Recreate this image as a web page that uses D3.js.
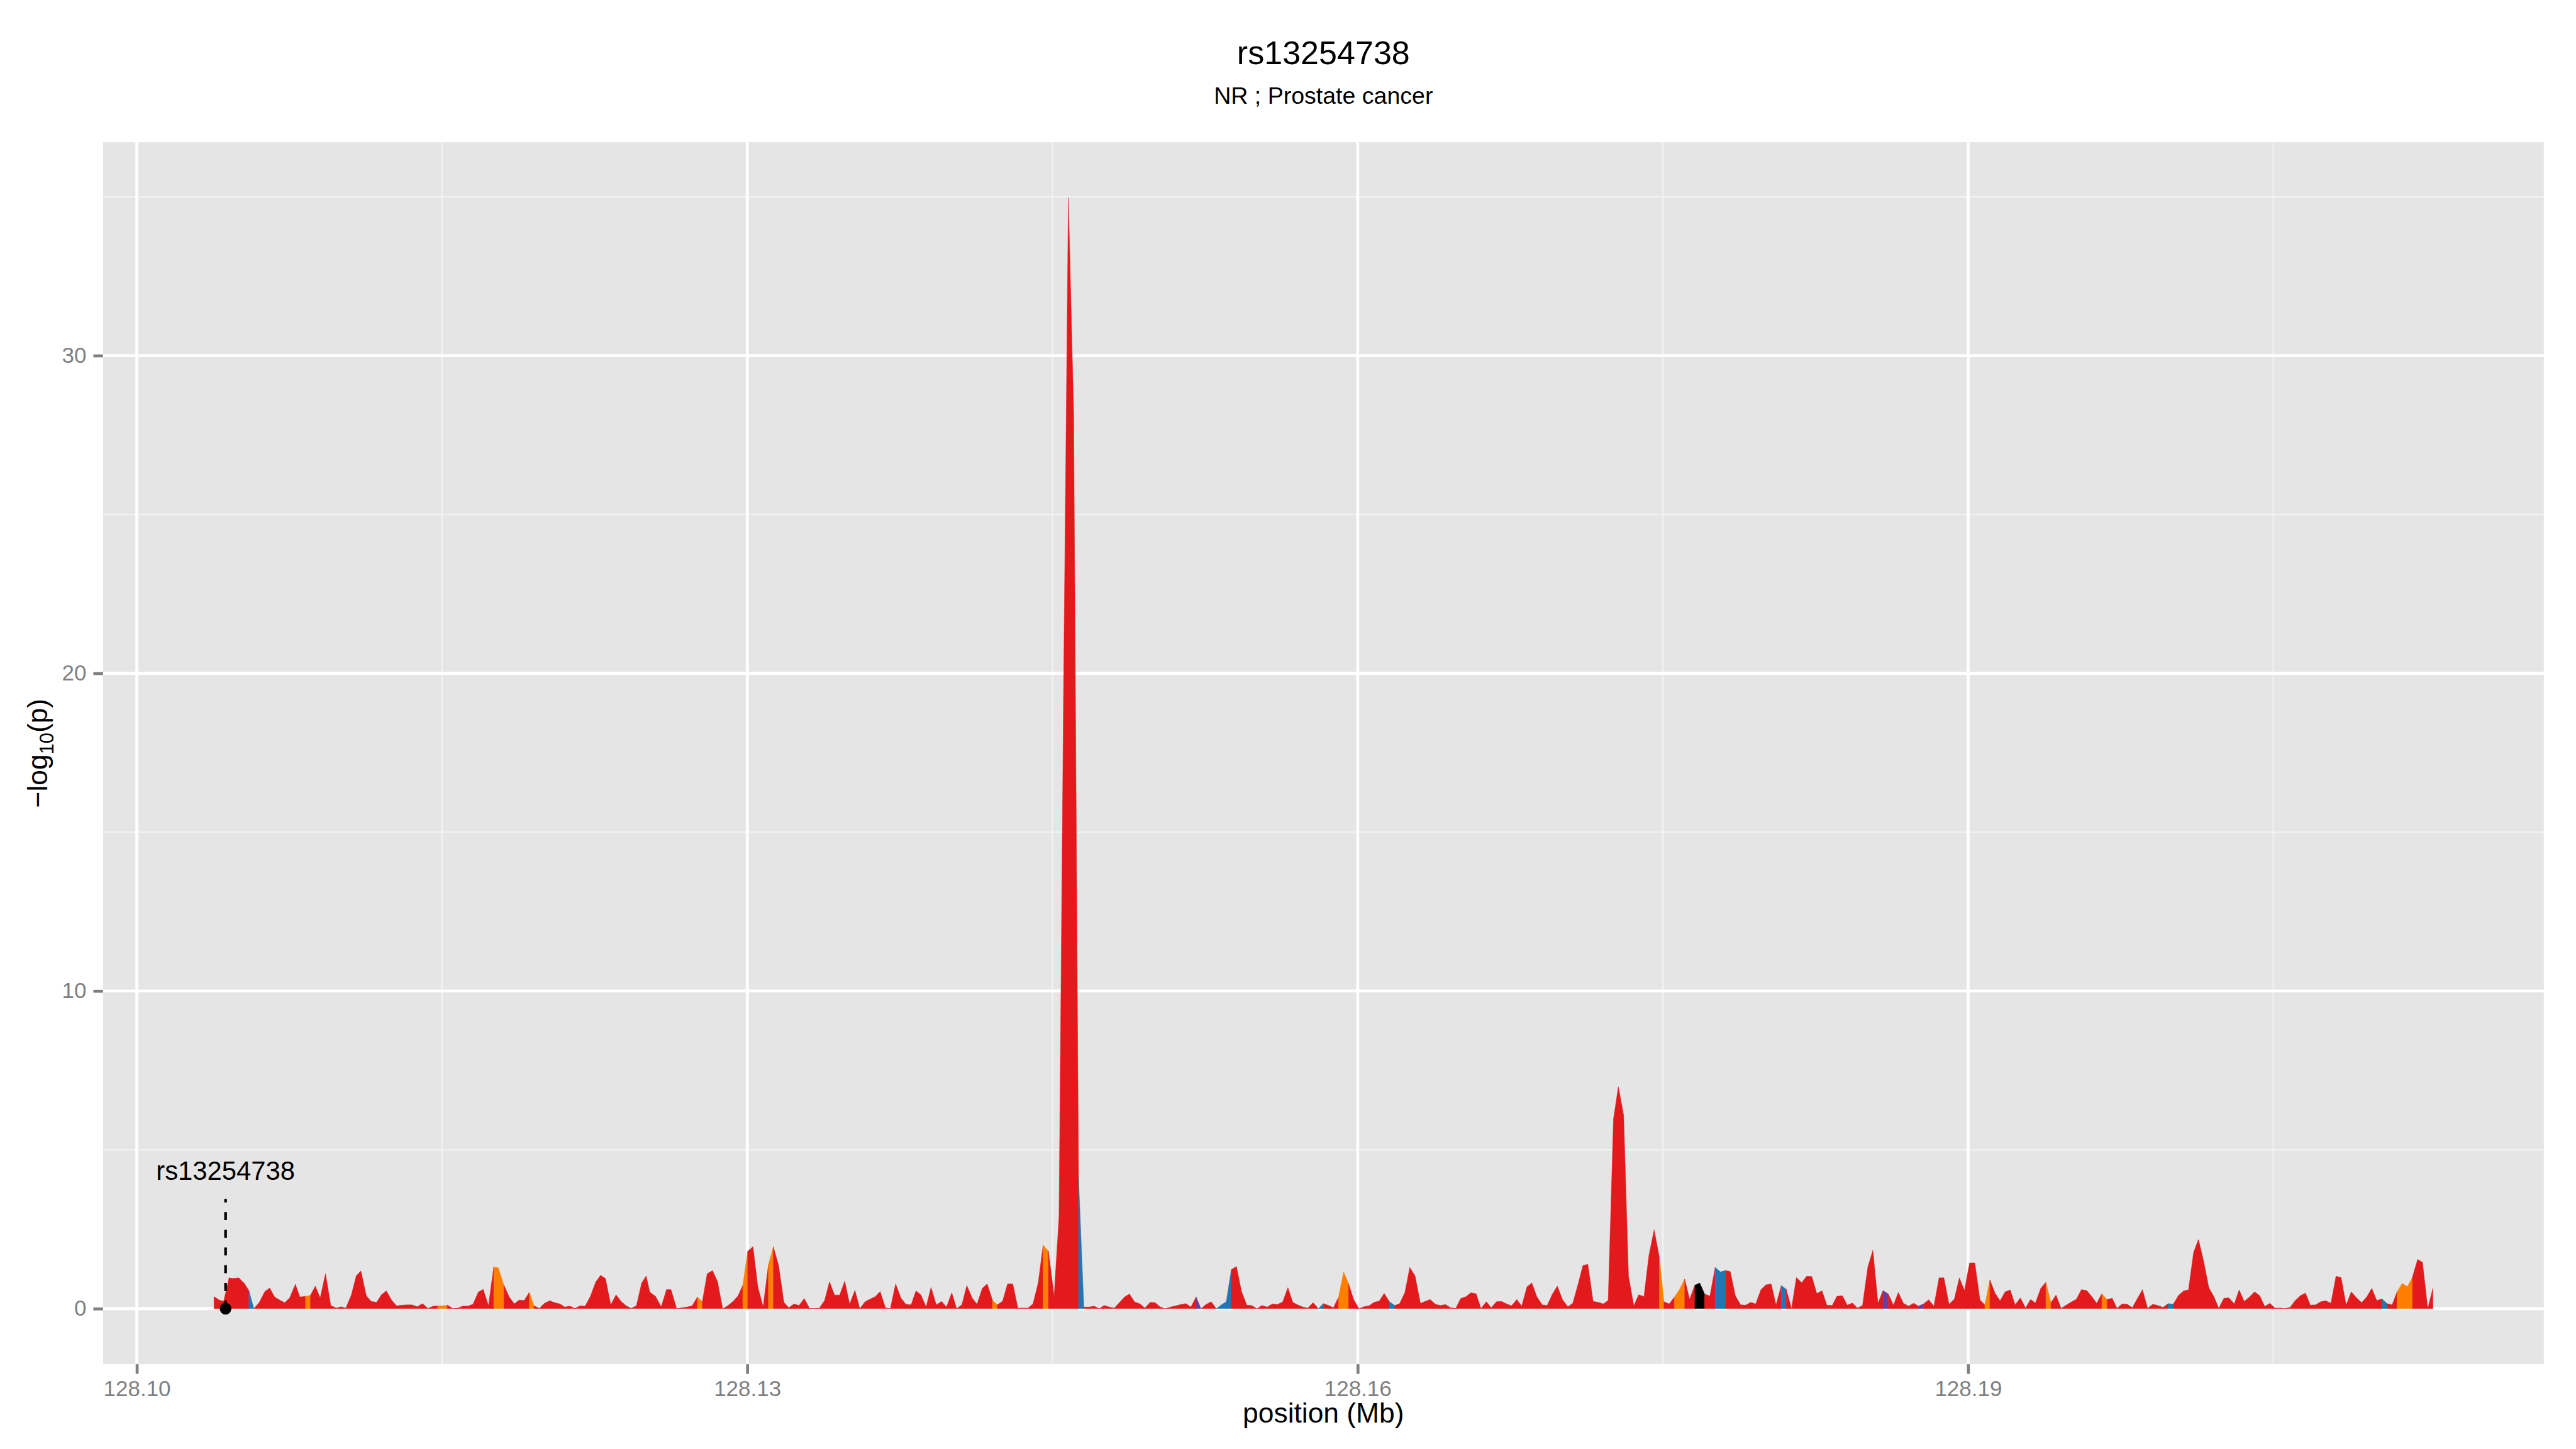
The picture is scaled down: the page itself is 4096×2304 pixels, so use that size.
<!DOCTYPE html>
<html>
<head>
<meta charset="utf-8">
<script src="https://cdn.jsdelivr.net/npm/d3@7"></script>
<style>
  html, body { margin: 0; padding: 0; background: #fff; }
  svg { display: block; font-family: "Liberation Sans", Arial, Helvetica, sans-serif; }
</style>
</head>
<body>
<svg id="chart"></svg>
<script>
// region plot around the lead SNP
const plotTitle = "rs13254738";
const plotSubtitle = "NR ; Prostate cancer";
const xTitle = "position (Mb)";

const windowStartMb = 128.1;

// SNP positions, kb after windowStartMb
const offsetKb = [
  3.79, 4.09, 4.27, 4.53, 4.72, 5.01, 5.29, 5.51, 5.75, 6.01,
  6.29, 6.53, 6.77, 7.05, 7.27, 7.51, 7.79, 8.01, 8.29, 8.53,
  8.77, 9.01, 9.27, 9.53, 9.80, 10.04, 10.27, 10.54, 10.78, 11.01,
  11.28, 11.52, 11.78, 12.02, 12.26, 12.52, 12.76, 13.04, 13.28, 13.52,
  13.78, 14.04, 14.30, 14.58, 14.78, 15.04, 15.26, 15.52, 15.78, 16.02,
  16.28, 16.52, 16.78, 17.02, 17.28, 17.54, 17.76, 18.04, 18.30, 18.55,
  18.78, 19.04, 19.29, 19.52, 19.78, 20.03, 20.29, 20.53, 20.79, 21.03,
  21.27, 21.53, 21.79, 22.03, 22.29, 22.55, 22.79, 23.03, 23.29, 23.55,
  23.81, 24.05, 24.29, 24.55, 24.81, 25.03, 25.21, 25.49, 25.77, 26.03,
  26.25, 26.53, 26.79, 27.03, 27.29, 27.55, 27.79, 28.03, 28.29, 28.54,
  28.79, 29.04, 29.30, 29.54, 29.78, 30.02, 30.28, 30.52, 30.78, 31.04,
  31.28, 31.54, 31.80, 32.04, 32.30, 32.54, 32.80, 33.06, 33.30, 33.55,
  33.80, 34.04, 34.29, 34.54, 34.79, 35.03, 35.29, 35.53, 35.79, 36.03,
  36.29, 36.53, 36.79, 37.03, 37.29, 37.55, 37.79, 38.05, 38.29, 38.53,
  38.79, 39.03, 39.29, 39.55, 39.79, 40.05, 40.29, 40.55, 40.79, 41.05,
  41.29, 41.55, 41.79, 42.05, 42.29, 42.55, 42.79, 43.05, 43.30, 43.55,
  43.80, 44.04, 44.30, 44.54, 44.80, 45.08, 45.32, 45.54, 45.78, 46.04,
  46.28, 46.54, 46.80, 47.04, 47.30, 47.54, 47.80, 48.04, 48.30, 48.54,
  48.78, 49.04, 49.30, 49.54, 49.80, 50.04, 50.30, 50.54, 50.80, 51.06,
  51.30, 51.56, 51.80, 52.06, 52.30, 52.54, 52.80, 53.05, 53.30, 53.54,
  53.79, 54.04, 54.29, 54.55, 54.79, 55.05, 55.29, 55.55, 55.81, 56.05,
  56.31, 56.57, 56.81, 57.05, 57.31, 57.55, 57.81, 58.07, 58.31, 58.57,
  58.81, 59.06, 59.31, 59.55, 59.80, 60.06, 60.30, 60.56, 60.80, 61.06,
  61.30, 61.56, 61.82, 62.06, 62.32, 62.56, 62.82, 63.08, 63.32, 63.56,
  63.82, 64.06, 64.32, 64.56, 64.82, 65.06, 65.32, 65.56, 65.82, 66.06,
  66.32, 66.56, 66.82, 67.06, 67.32, 67.56, 67.82, 68.06, 68.32, 68.56,
  68.81, 69.07, 69.31, 69.57, 69.81, 70.07, 70.33, 70.57, 70.83, 71.07,
  71.31, 71.57, 71.83, 72.07, 72.31, 72.57, 72.81, 73.07, 73.31, 73.57,
  73.81, 74.07, 74.31, 74.57, 74.83, 75.05, 75.31, 75.57, 75.81, 76.07,
  76.31, 76.57, 76.81, 77.05, 77.31, 77.57, 77.82, 78.07, 78.31, 78.56,
  78.82, 79.06, 79.32, 79.56, 79.82, 80.06, 80.32, 80.56, 80.82, 81.06,
  81.32, 81.56, 81.82, 82.06, 82.32, 82.56, 82.82, 83.06, 83.32, 83.55,
  83.82, 84.06, 84.31, 84.56, 84.81, 85.07, 85.32, 85.57, 85.82, 86.08,
  86.33, 86.57, 86.82, 87.07, 87.32, 87.56, 87.81, 88.06, 88.32, 88.57,
  88.81, 89.06, 89.32, 89.57, 89.82, 90.07, 90.33, 90.58, 90.82, 91.07,
  91.32, 91.57, 91.82, 92.07, 92.31, 92.57, 92.82, 93.07, 93.31, 93.57,
  93.82, 94.07, 94.32, 94.57, 94.82, 95.07, 95.32, 95.57, 95.83, 96.07,
  96.32, 96.57, 96.83, 97.08, 97.32, 97.57, 97.82, 98.07, 98.32, 98.57,
  98.82, 99.08, 99.32, 99.58, 99.83, 100.08, 100.33, 100.59, 100.83, 101.08,
  101.32, 101.58, 101.83, 102.08, 102.32, 102.57, 102.82, 103.08, 103.32, 103.57,
  103.83, 104.08, 104.33, 104.58, 104.83, 105.08, 105.33, 105.58, 105.82, 106.08,
  106.33, 106.58, 106.82, 107.08, 107.33, 107.58, 107.83, 108.08, 108.33, 108.58,
  108.83, 109.08, 109.34, 109.59, 109.84, 110.08, 110.34, 110.59, 110.84, 111.08,
  111.34, 111.59, 111.84, 112.09, 112.33, 112.59, 112.84
];

// -log10(p) at each SNP
const logP = [
  0.38, 0.26, 0.24, 0.97, 0.95, 0.97, 0.79, 0.56, 0.00, 0.19,
  0.54, 0.65, 0.37, 0.26, 0.19, 0.34, 0.77, 0.37, 0.39, 0.42,
  0.71, 0.34, 1.10, 0.10, 0.02, 0.06, 0.02, 0.43, 1.03, 1.19,
  0.40, 0.23, 0.20, 0.44, 0.56, 0.27, 0.09, 0.11, 0.12, 0.12,
  0.06, 0.16, 0.01, 0.08, 0.09, 0.09, 0.11, 0.01, 0.02, 0.08,
  0.08, 0.14, 0.52, 0.61, 0.10, 1.31, 1.29, 0.74, 0.37, 0.15,
  0.27, 0.26, 0.52, 0.09, 0.01, 0.17, 0.25, 0.19, 0.15, 0.05,
  0.08, 0.01, 0.09, 0.08, 0.39, 0.84, 1.05, 0.95, 0.12, 0.44,
  0.22, 0.09, 0.01, 0.09, 0.81, 1.03, 0.52, 0.39, 0.06, 0.60,
  0.60, 0.00, 0.03, 0.05, 0.09, 0.37, 0.22, 1.10, 1.20, 0.85,
  0.00, 0.09, 0.23, 0.40, 0.74, 1.81, 1.95, 0.68, 0.06, 1.39,
  1.95, 1.36, 0.20, 0.03, 0.15, 0.10, 0.32, 0.01, 0.01, 0.02,
  0.26, 0.85, 0.43, 0.43, 0.87, 0.14, 0.58, 0.00, 0.22, 0.30,
  0.38, 0.54, 0.03, 0.00, 0.78, 0.34, 0.14, 0.12, 0.56, 0.44,
  0.05, 0.67, 0.12, 0.23, 0.05, 0.50, 0.00, 0.13, 0.73, 0.34,
  0.14, 0.64, 0.78, 0.27, 0.12, 0.24, 0.78, 0.78, 0.02, 0.02,
  0.02, 0.15, 0.82, 2.00, 1.81, 0.40, 2.88, 19.2, 34.97, 28.2,
  4.15, 0.05, 0.05, 0.08, 0.00, 0.10, 0.05, 0.02, 0.20, 0.37,
  0.46, 0.21, 0.15, 0.02, 0.20, 0.19, 0.05, 0.00, 0.05, 0.09,
  0.13, 0.16, 0.05, 0.37, 0.00, 0.13, 0.22, 0.00, 0.12, 0.22,
  1.23, 1.33, 0.54, 0.11, 0.10, 0.00, 0.10, 0.05, 0.15, 0.13,
  0.21, 0.66, 0.20, 0.12, 0.05, 0.02, 0.19, 0.00, 0.16, 0.10,
  0.03, 0.37, 1.16, 0.79, 0.29, 0.00, 0.06, 0.09, 0.20, 0.24,
  0.48, 0.22, 0.10, 0.16, 0.51, 1.30, 1.03, 0.17, 0.23, 0.29,
  0.14, 0.10, 0.13, 0.03, 0.01, 0.32, 0.38, 0.50, 0.47, 0.00,
  0.22, 0.03, 0.22, 0.23, 0.15, 0.09, 0.29, 0.08, 0.69, 0.81,
  0.37, 0.12, 0.10, 0.46, 0.71, 0.28, 0.06, 0.17, 0.77, 1.36,
  1.40, 0.23, 0.20, 0.15, 0.26, 5.97, 6.99, 6.09, 1.02, 0.09,
  0.44, 0.38, 1.67, 2.48, 1.60, 0.22, 0.15, 0.37, 0.60, 0.93,
  0.30, 0.74, 0.81, 0.46, 0.40, 1.30, 1.16, 1.20, 1.17, 0.41,
  0.12, 0.11, 0.20, 0.15, 0.60, 0.75, 0.78, 0.12, 0.73, 0.61,
  0.00, 0.98, 0.82, 1.02, 1.01, 0.48, 0.56, 0.11, 0.10, 0.39,
  0.41, 0.11, 0.18, 0.02, 0.10, 1.31, 1.84, 0.17, 0.57, 0.46,
  0.11, 0.51, 0.17, 0.08, 0.17, 0.08, 0.15, 0.28, 0.08, 0.97,
  0.97, 0.14, 0.30, 0.97, 0.57, 1.44, 1.44, 0.28, 0.12, 0.91,
  0.49, 0.25, 0.53, 0.59, 0.12, 0.34, 0.02, 0.29, 0.18, 0.64,
  0.83, 0.19, 0.43, 0.01, 0.11, 0.21, 0.30, 0.60, 0.57, 0.39,
  0.17, 0.47, 0.29, 0.33, 0.01, 0.15, 0.14, 0.03, 0.32, 0.60,
  0.01, 0.14, 0.10, 0.04, 0.16, 0.14, 0.41, 0.56, 0.59, 1.77,
  2.18, 1.48, 0.66, 0.38, 0.01, 0.33, 0.34, 0.15, 0.59, 0.23,
  0.37, 0.53, 0.41, 0.07, 0.17, 0.02, 0.02, 0.01, 0.04, 0.26,
  0.41, 0.49, 0.11, 0.12, 0.22, 0.25, 0.17, 1.02, 0.98, 0.11,
  0.53, 0.35, 0.19, 0.37, 0.64, 0.26, 0.31, 0.16, 0.12, 0.53,
  0.80, 0.69, 1.00, 1.55, 1.46, 0.00, 0.64
];

// LD class of the stretch that starts at each SNP
// r = low, o = orange bin, b = blue bin, p = purple bin, k = black bin
const ldClass = (
  "rrrrrrrbrr rrrrrrrror rrrrrrrrrr rrrrrrrrrr rrrroorrrr " +
  "rrrrroorrr rrorrrrrrr rrrrrrrrrr rrrrrrrrrr rrrrrorrrr " +
  "rrrrorrrro rrrrrrrrrr rrrrrrrrrr rrrrrrrrrr rrrrrrrrrr " +
  "rrrorrrrrr rrrorrrrrr brrrrrrrrr rrrrrrrrrr rrrprrrbbb " +
  "rrrrrrrrrr rrrrrrrbrr roorrrrrrr rbrrrrrrrr rrrrrrrrrr " +
  "rrrrrrrrrr rrrrrrrrrr rrrrrrrrrr rrrrorroor rkkrrbbrrr " +
  "rrrrrrrrbr rrrrrrrrrr rrrrrrrrpr rrrrrprrrr rrrrrrrror " +
  "rrrrrrrrrr orrrrrrrrr rorrrrrrrr rrrrbrrrrr rrrrrrrrrr " +
  "rrrrrrrrrr rrrrrrrrrr rrrrrrbrro oorrrrr"
).replace(/ /g, "").split("");

const ldColours = { r: "#E31A1C", o: "#FF7F00", b: "#1F78B4", p: "#6A3D9A", k: "#000000" };

// lead SNP marker
const leadSnp = { label: "rs13254738", offsetKb: 4.36, logP: 0, stemTop: 3.45, labelAt: 4.3 };

const xTicks = [128.10, 128.13, 128.16, 128.19];
const xTickLabels = ["128.10", "128.13", "128.16", "128.19"];
const xMinor = [128.115, 128.145, 128.175, 128.205];
const yTicks = [0, 10, 20, 30];
const yTickLabels = ["0", "10", "20", "30"];
const yMinor = [5, 15, 25, 35];

// drawing is laid out on the 4800x2700 reference and scaled down by the viewBox
const W = 4800, H = 2700;
const panel = { left: 192, right: 4740, top: 265, bottom: 2542 };
const midX = (panel.left + panel.right) / 2;

const svg = d3
  .select("#chart")
  .attr("width", 4096)
  .attr("height", 2304)
  .attr("viewBox", `0 0 ${W} ${H}`);

svg.append("rect").attr("width", W).attr("height", H).attr("fill", "#ffffff");

const points = offsetKb.map((kb, i) => ({
  pos: windowStartMb + kb / 1000,
  logp: logP[i],
  ld: ldClass[i],
}));

// ggplot style 5% padding on both ends
function expand(ext) {
  const m = (ext[1] - ext[0]) * 0.05;
  return [ext[0] - m, ext[1] + m];
}

const x = d3
  .scaleLinear()
  .domain(expand(d3.extent(points, (d) => d.pos)))
  .range([panel.left, panel.right]);

const y = d3
  .scaleLinear()
  .domain(expand([0, d3.max(points, (d) => d.logp)]))
  .range([panel.bottom, panel.top]);

svg
  .append("rect")
  .attr("x", panel.left)
  .attr("y", panel.top)
  .attr("width", panel.right - panel.left)
  .attr("height", panel.bottom - panel.top)
  .attr("fill", "#E5E5E5");

const grid = svg.append("g");

grid
  .selectAll(".xminor")
  .data(xMinor)
  .join("line")
  .attr("x1", (d) => x(d))
  .attr("x2", (d) => x(d))
  .attr("y1", panel.top)
  .attr("y2", panel.bottom)
  .attr("stroke", "#F2F2F2")
  .attr("stroke-width", 2.8);

grid
  .selectAll(".yminor")
  .data(yMinor)
  .join("line")
  .attr("x1", panel.left)
  .attr("x2", panel.right)
  .attr("y1", (d) => y(d))
  .attr("y2", (d) => y(d))
  .attr("stroke", "#F2F2F2")
  .attr("stroke-width", 2.8);

grid
  .selectAll(".xmajor")
  .data(xTicks)
  .join("line")
  .attr("x1", (d) => x(d))
  .attr("x2", (d) => x(d))
  .attr("y1", panel.top)
  .attr("y2", panel.bottom)
  .attr("stroke", "#ffffff")
  .attr("stroke-width", 5.5);

grid
  .selectAll(".ymajor")
  .data(yTicks)
  .join("line")
  .attr("x1", panel.left)
  .attr("x2", panel.right)
  .attr("y1", (d) => y(d))
  .attr("y2", (d) => y(d))
  .attr("stroke", "#ffffff")
  .attr("stroke-width", 5.5);

// join neighbouring stretches of the same class into one filled run
let runs = [];
for (let i = 0; i < points.length - 1; i++) {
  const ld = points[i].ld;
  const last = runs[runs.length - 1];
  if (last && last.ld === ld) {
    last.pts.push(points[i + 1]);
  } else {
    runs.push({ ld: ld, pts: [points[i], points[i + 1]] });
  }
}

const area = d3
  .area()
  .x((d) => x(d.pos))
  .y0(y(0))
  .y1((d) => y(d.logp));

svg
  .append("g")
  .selectAll("path")
  .data(runs)
  .join("path")
  .attr("d", (r) => area(r.pts))
  .attr("fill", (r) => ldColours[r.ld])
  .attr("stroke", (r) => ldColours[r.ld])
  .attr("stroke-width", 0.6);

// lead SNP: dashed stem, point and label
const leadX = x(windowStartMb + leadSnp.offsetKb / 1000);

svg
  .append("line")
  .attr("x1", leadX)
  .attr("x2", leadX)
  .attr("y1", y(leadSnp.logP))
  .attr("y2", y(leadSnp.stemTop))
  .attr("stroke", "#000")
  .attr("stroke-width", 5)
  .attr("stroke-dasharray", "15 18");

svg
  .append("circle")
  .attr("cx", leadX)
  .attr("cy", y(leadSnp.logP))
  .attr("r", 11)
  .attr("fill", "#000");

svg
  .append("text")
  .attr("x", leadX)
  .attr("y", y(leadSnp.labelAt))
  .attr("dy", "0.3em")
  .attr("text-anchor", "middle")
  .attr("font-size", 49)
  .attr("fill", "#000")
  .text(leadSnp.label);

// axes
const xAxis = svg
  .append("g")
  .attr("transform", `translate(0,${panel.bottom})`)
  .call(
    d3
      .axisBottom(x)
      .tickValues(xTicks)
      .tickFormat((d, i) => xTickLabels[i])
      .tickSize(18)
      .tickPadding(12)
  );

const yAxis = svg
  .append("g")
  .attr("transform", `translate(${panel.left},0)`)
  .call(
    d3
      .axisLeft(y)
      .tickValues(yTicks)
      .tickFormat((d, i) => yTickLabels[i])
      .tickSize(18)
      .tickPadding(13)
  );

[xAxis, yAxis].forEach((ax) => {
  ax.select(".domain").remove();
  ax.selectAll(".tick line").attr("stroke", "#7F7F7F").attr("stroke-width", 5.5);
  ax.selectAll(".tick text")
    .attr("fill", "#7F7F7F")
    .attr("font-size", 41)
    .attr("font-family", '"Liberation Sans", Arial, sans-serif');
});

// titles
svg
  .append("text")
  .attr("x", midX)
  .attr("y", 119)
  .attr("text-anchor", "middle")
  .attr("font-size", 61)
  .attr("fill", "#000")
  .text(plotTitle);

svg
  .append("text")
  .attr("x", midX)
  .attr("y", 193)
  .attr("text-anchor", "middle")
  .attr("font-size", 44)
  .attr("fill", "#000")
  .text(plotSubtitle);

svg
  .append("text")
  .attr("x", midX)
  .attr("y", 2651)
  .attr("text-anchor", "middle")
  .attr("font-size", 52)
  .attr("fill", "#000")
  .text(xTitle);

const yTitle = svg
  .append("text")
  .attr("transform", `translate(88,${(panel.top + panel.bottom) / 2}) rotate(-90)`)
  .attr("text-anchor", "middle")
  .attr("font-size", 52)
  .attr("fill", "#000");
yTitle.append("tspan").text("\u2212log");
yTitle.append("tspan").attr("font-size", 36).attr("dy", 12).text("10");
yTitle.append("tspan").attr("dy", -12).text("(p)");
</script>
</body>
</html>
